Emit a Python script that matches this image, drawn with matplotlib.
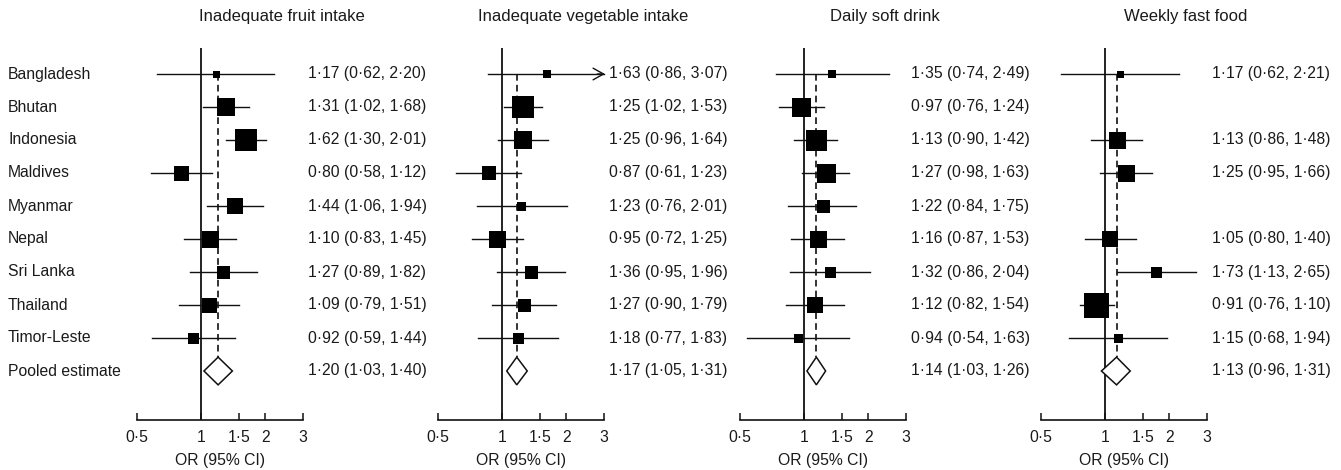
import numpy as np
import matplotlib
matplotlib.use("Agg")
import matplotlib.pyplot as plt
from matplotlib.patches import Polygon

plt.rcParams['font.family'] = ['Liberation Sans', 'DejaVu Sans']

countries = ["Bangladesh", "Bhutan", "Indonesia", "Maldives", "Myanmar",
             "Nepal", "Sri Lanka", "Thailand", "Timor-Leste"]
pooled_label = "Pooled estimate"

titles = ["Inadequate fruit intake", "Inadequate vegetable intake",
          "Daily soft drink", "Weekly fast food"]

nan = np.nan
fruit_or = [1.17, 1.31, 1.62, 0.80, 1.44, 1.10, 1.27, 1.09, 0.92]
fruit_lo = [0.62, 1.02, 1.30, 0.58, 1.06, 0.83, 0.89, 0.79, 0.59]
fruit_hi = [2.20, 1.68, 2.01, 1.12, 1.94, 1.45, 1.82, 1.51, 1.44]
fruit_pool = [1.20, 1.03, 1.40]
fruit_size = [7, 18, 22, 15, 16, 17, 13, 15, 11]

veg_or = [1.63, 1.25, 1.25, 0.87, 1.23, 0.95, 1.36, 1.27, 1.18]
veg_lo = [0.86, 1.02, 0.96, 0.61, 0.76, 0.72, 0.95, 0.90, 0.77]
veg_hi = [3.07, 1.53, 1.64, 1.23, 2.01, 1.25, 1.96, 1.79, 1.83]
veg_pool = [1.17, 1.05, 1.31]
veg_size = [8, 23, 18, 14, 9, 17, 13, 13, 11]

soft_or = [1.35, 0.97, 1.13, 1.27, 1.22, 1.16, 1.32, 1.12, 0.94]
soft_lo = [0.74, 0.76, 0.90, 0.98, 0.84, 0.87, 0.86, 0.82, 0.54]
soft_hi = [2.49, 1.24, 1.42, 1.63, 1.75, 1.53, 2.04, 1.54, 1.63]
soft_pool = [1.14, 1.03, 1.26]
soft_size = [8, 19, 21, 19, 13, 17, 11, 16, 9]

fast_or = [1.17, nan, 1.13, 1.25, nan, 1.05, 1.73, 0.91, 1.15]
fast_lo = [0.62, nan, 0.86, 0.95, nan, 0.80, 1.13, 0.76, 0.68]
fast_hi = [2.21, nan, 1.48, 1.66, nan, 1.40, 2.65, 1.10, 1.94]
fast_pool = [1.13, 0.96, 1.31]
fast_size = [7, nan, 17, 17, nan, 16, 11, 25, 9]

panels = [
    (fruit_or, fruit_lo, fruit_hi, fruit_pool, fruit_size),
    (veg_or, veg_lo, veg_hi, veg_pool, veg_size),
    (soft_or, soft_lo, soft_hi, soft_pool, soft_size),
    (fast_or, fast_lo, fast_hi, fast_pool, fast_size),
]

xticks = [0.5, 1, 1.5, 2, 3]
xmin, xmax = 0.5, 3.0

W, H = 1341, 470
fig = plt.figure(figsize=(W / 100, H / 100), dpi=100)

def fmt(v):
    return f"{v:.2f}".replace(".", "\u00b7")

def tick_fmt(v):
    s = f"{v:g}"
    return s.replace(".", "\u00b7")

FS = 11.3
TXT = "#1a1a1a"
LC = "#111111"

ax_lefts = [137, 438, 740, 1041]
ax_w = 166
top_px, bot_px = 48, 420
row0_px, row_step = 74, 33
n = len(countries)

y_top = -(top_px - row0_px) / row_step
y_bot = -(bot_px - row0_px) / row_step

for k, (ors, los, his, pool, sizes) in enumerate(panels):
    left = ax_lefts[k]
    ax = fig.add_axes([left / W, 1 - bot_px / H, ax_w / W, (bot_px - top_px) / H])
    ax.set_xscale("log")
    ax.set_xlim(xmin, xmax)
    ax.set_ylim(y_bot, y_top)
    ax.patch.set_visible(False)
    for s in ["top", "right", "left"]:
        ax.spines[s].set_visible(False)
    ax.spines["bottom"].set_linewidth(1.2)
    ax.spines["bottom"].set_color(LC)
    ax.set_yticks([])
    ax.set_xticks(xticks)
    ax.set_xticklabels([tick_fmt(v) for v in xticks])
    ax.xaxis.set_minor_locator(matplotlib.ticker.NullLocator())
    ax.tick_params(axis="x", direction="in", length=5, width=1.1, pad=7,
                   labelsize=FS, colors=LC, labelcolor=TXT)

    # vertical reference line at OR=1
    ax.axvline(1.0, color=LC, lw=1.3, zorder=1)

    pe, plo, phi = pool
    yp = -n
    hh = 0.42
    # dashed pooled line
    ax.plot([pe, pe], [0, yp + hh], color=LC, lw=1.2, ls=(0, (4, 2.5)), zorder=1)

    for i in range(n):
        o, lo, hi, sz = ors[i], los[i], his[i], sizes[i]
        if np.isnan(o):
            continue
        y = -i
        if hi > xmax:
            ax.plot([lo, xmax], [y, y], color=LC, lw=1.0, zorder=2, clip_on=False)
            ax.annotate("", xy=(xmax * 1.01, y), xytext=(xmax * 0.93, y),
                        arrowprops=dict(arrowstyle="->,head_length=0.75,head_width=0.42",
                                        lw=1.0, color=LC, shrinkA=0, shrinkB=0),
                        annotation_clip=False)
        else:
            ax.plot([lo, hi], [y, y], color=LC, lw=1.0, zorder=2, clip_on=False)
        ax.plot([o], [y], marker="s", ms=sz * 0.72, color="black", mec="black",
                mew=0, zorder=3, clip_on=False)
        txt = f"{fmt(o)} ({fmt(lo)}, {fmt(hi)})"
        ax.annotate(txt, xy=(xmax, y), xytext=(5, 0), textcoords="offset pixels",
                    ha="left", va="center", fontsize=FS, color=TXT,
                    annotation_clip=False)

    diamond = Polygon([[plo, yp], [pe, yp + hh], [phi, yp], [pe, yp - hh]],
                      closed=True, facecolor="white", edgecolor=LC, lw=1.1, zorder=3)
    ax.add_patch(diamond)
    ax.annotate(f"{fmt(pe)} ({fmt(plo)}, {fmt(phi)})", xy=(xmax, yp), xytext=(5, 0),
                textcoords="offset pixels", ha="left", va="center", fontsize=FS,
                color=TXT, annotation_clip=False)

    # title and x label
    fig.text((left + 145) / W, 1 - 17 / H, titles[k], ha="center", va="center",
             fontsize=12, color=TXT)
    fig.text((left + ax_w / 2) / W, 1 - 460 / H, "OR (95% CI)", ha="center",
             va="center", fontsize=FS, color=TXT)

# country labels
for i, c in enumerate(countries + [pooled_label]):
    fig.text(8 / W, 1 - (row0_px + row_step * i) / H, c, ha="left", va="center",
             fontsize=FS, color=TXT)

fig.savefig("out.png", dpi=100, facecolor="white")
